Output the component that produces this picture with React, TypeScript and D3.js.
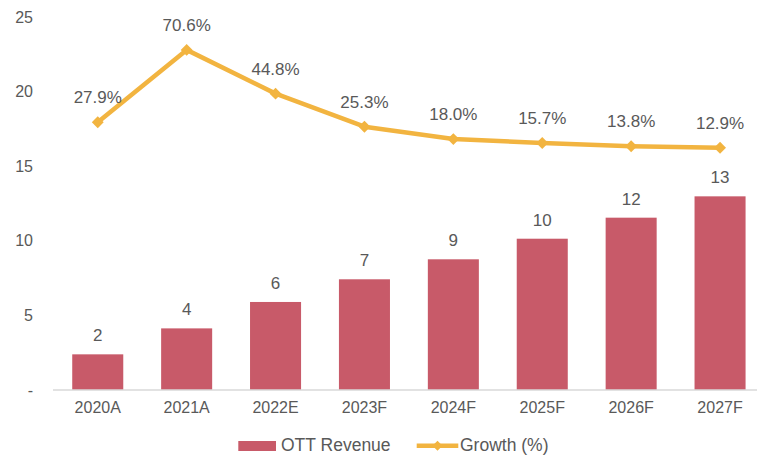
import React from "react";
import * as d3 from "d3";

const categories = ["2020A", "2021A", "2022E", "2023F", "2024F", "2025F", "2026F", "2027F"];
const revenue = [2.39, 4.13, 5.9, 7.42, 8.76, 10.14, 11.55, 12.98];
const growth = [27.9, 70.6, 44.8, 25.3, 18.0, 15.7, 13.8, 12.9];
const yTicks = [0, 5, 10, 15, 20, 25];
const legendLabels = ["OTT Revenue", "Growth (%)"];

const W = 757;
const H = 456;
const BAR = "#C85A69";
const LINE = "#F2B440";
const TEXT = "#595959";
const FONT = "Arial, 'Liberation Sans', Helvetica, sans-serif";

export default function App() {
  const x = d3.scaleBand<string>().domain(categories).range([53.3, 764.5]).paddingInner(0.426).paddingOuter(0.213);
  const y = d3.scaleLinear().domain([0, 25]).range([390, 17]);
  const y2 = d3.scaleLinear().domain([-130, 90]).range([390, 17]);
  const cx = (c: string) => (x(c) as number) + x.bandwidth() / 2;
  const line = d3
    .line<number>()
    .x((_, i) => cx(categories[i]))
    .y((d) => y2(d));
  const diamond = d3.symbol().type(d3.symbolDiamond2).size(90)();
  const fmtBar = d3.format(".0f");
  const fmtG = (v: number) => d3.format(".1f")(v) + "%";

  return (
    <svg
      width={W}
      height={H}
      style={{ position: "absolute", left: 0, top: 0, background: "#fff" }}
      fontFamily={FONT}
    >
      {/* y axis labels */}
      {yTicks.map((t) => (
        <text key={t} x={33} y={y(t)} dy="0.35em" textAnchor="end" fontSize={16} fill={TEXT}>
          {t === 0 ? "-" : t}
        </text>
      ))}
      {/* bars */}
      {revenue.map((v, i) => (
        <g key={categories[i]}>
          <rect x={x(categories[i])} y={y(v)} width={x.bandwidth()} height={y(0) - y(v)} fill={BAR} />
          <text x={cx(categories[i])} y={y(v) - 13} textAnchor="middle" fontSize={17} fill={TEXT}>
            {fmtBar(v)}
          </text>
        </g>
      ))}
      {/* baseline */}
      <line x1={53} x2={W} y1={y(0)} y2={y(0)} stroke="#D9D9D9" strokeWidth={1.5} />
      {/* x labels */}
      {categories.map((c) => (
        <text key={c} x={cx(c)} y={413.3} textAnchor="middle" fontSize={16} fill={TEXT}>
          {c}
        </text>
      ))}
      {/* growth line */}
      <path d={line(growth) || ""} fill="none" stroke={LINE} strokeWidth={4.5} strokeLinejoin="round" />
      {growth.map((g, i) => (
        <g key={"g" + i}>
          <path d={diamond || ""} transform={`translate(${cx(categories[i])},${y2(g)})`} fill={LINE} />
          <text x={cx(categories[i])} y={y2(g) - 19} textAnchor="middle" fontSize={17} fill={TEXT}>
            {fmtG(g)}
          </text>
        </g>
      ))}
      {/* legend */}
      <rect x={238.3} y={441} width={37.7} height={10} fill={BAR} />
      <text x={281} y={451} fontSize={17.5} fill={TEXT}>
        {legendLabels[0]}
      </text>
      <line x1={416.7} x2={458.3} y1={445.7} y2={445.7} stroke={LINE} strokeWidth={4.5} />
      <path d={diamond || ""} transform={`translate(437.5,445.7) scale(0.85)`} fill={LINE} />
      <text x={460} y={451} fontSize={17.5} fill={TEXT}>
        {legendLabels[1]}
      </text>
    </svg>
  );
}
